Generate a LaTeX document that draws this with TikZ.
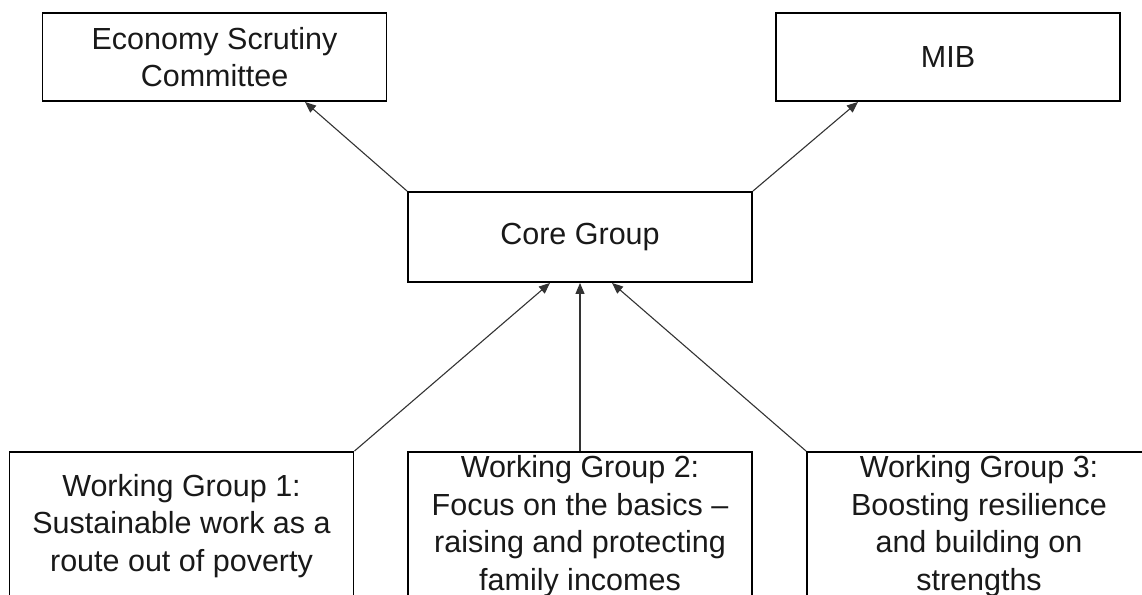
\documentclass[tikz,border=0pt]{standalone}
\usepackage{fontspec}
\setmainfont{Liberation Sans}
\usetikzlibrary{arrows.meta}
\definecolor{inkgray}{gray}{0.1}
\tikzset{
  box/.style={draw=black, line width=1.9pt, fill=white, inner sep=0pt,
    minimum width=344pt, align=center, text=inkgray,
    font=\fontsize{30.5}{37.5}\selectfont},
  link/.style={draw=black!80, line width=1.1pt,
    -{Triangle[length=11pt,width=9pt]}}
}
\begin{document}
\begin{tikzpicture}[x=1pt,y=-1pt]
\path[use as bounding box] (0,0) rectangle (1142,594);
\clip (0,0) rectangle (1142,594);
\node[box, minimum height=88pt] (esc) at (214.5,57) {Economy Scrutiny\\Committee};
\node[box, minimum height=88pt] (mib) at (948,57) {MIB};
\node[box, minimum height=90pt] (core) at (580,237) {Core Group};
\node[box, minimum height=148pt] (wg1) at (181.5,526) {Working Group 1:\\Sustainable work as a\\route out of poverty};
\node[box, minimum height=148pt] (wg2) at (580,526) {Working Group 2:\\Focus on the basics --\\raising and protecting\\family incomes};
\node[box, minimum height=148pt] (wg3) at (979,526) {Working Group 3:\\Boosting resilience\\and building on\\strengths};
\draw[link] (core.north west) -- ([xshift=90.5pt]esc.south);
\draw[link] (core.north east) -- ([xshift=-90pt]mib.south);
\draw[link] (wg1.north east) -- ([xshift=-30pt]core.south);
\draw[link] (wg2.north) -- (core.south);
\draw[link] (wg3.north west) -- ([xshift=32pt]core.south);
\end{tikzpicture}
\end{document}
